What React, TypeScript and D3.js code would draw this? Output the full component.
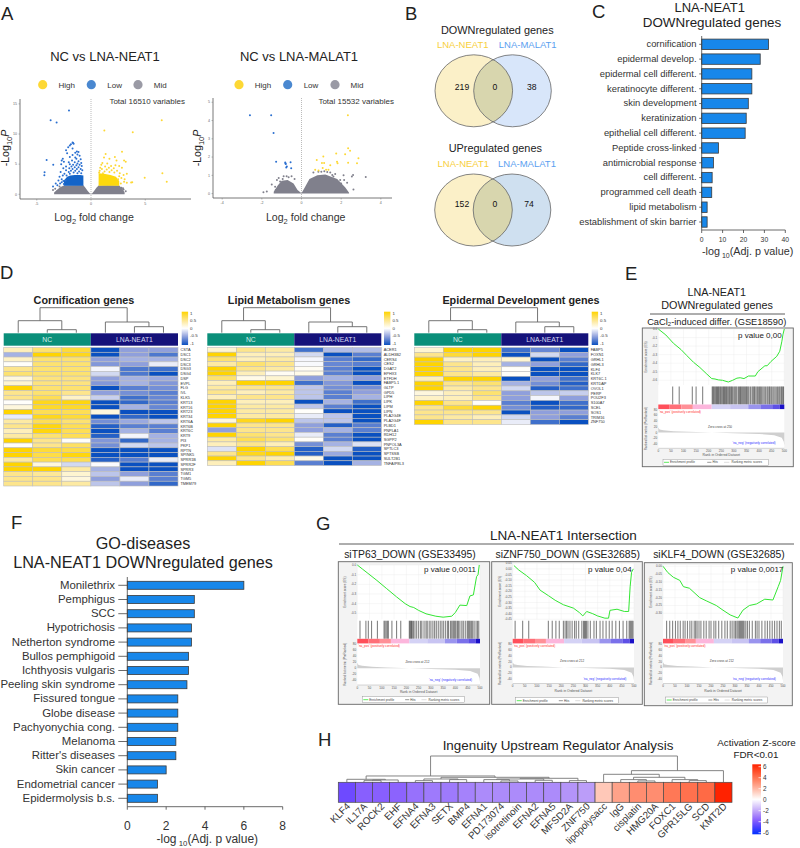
// Multi-panel figure: volcano plots, venn diagrams, GO bars, heatmaps, GSEA plots, upstream regulators
import React from 'react';
import * as d3 from 'd3';

// A: volcano plots, each point is [log2 fold change, -log10 P]
const neatBlue = [[-2.03,13.9],[-3.72,12.3],[-3.17,11.9],[-4.09,5.7],[-3.48,4.9],[-4.28,3.65],[-4.3,3.15],[-1.7,8.6],[-1.65,8.5],[-1.6,8.4],[-1.85,8.3],[-1.95,8.1],[-2.1,7.8],[-1.7,7.6],[-2.3,7.3],[-1.3,7.1],[-1.15,7],[-1.45,6.9],[-2.2,6.8],[-1.25,6.6],[-1.7,6.5],[-1.05,6.4],[-1.95,6.2],[-1.45,6.1],[-2.6,5.9],[-1.35,5.9],[-0.95,5.8],[-2.7,5.6],[-1.75,5.6],[-1.15,5.5],[-2.5,5.4],[-2.05,5.3],[-1.5,5.3],[-0.9,5.2],[-1.25,5.1],[-2.75,5],[-1.95,5],[-1.65,4.9],[-1.05,4.9],[-1.35,4.8],[-0.85,4.7],[-2.3,4.6],[-1.8,4.6],[-1.5,4.5],[-1.15,4.5],[-2.55,4.3],[-2,4.3],[-1.7,4.2],[-1.3,4.2],[-0.95,4.2],[-0.8,4],[-2.3,4],[-1.85,3.9],[-1.45,3.9],[-1.1,3.8],[-2.8,3.7],[-2.05,3.7],[-1.6,3.6],[-1.25,3.5],[-0.9,3.5],[-2.45,3.4],[-1.95,3.4],[-2.6,3.1],[-2.9,2.9],[-2.25,3.1],[-2.7,2.5],[-3,2.3],[-2.55,2.2],[-3.25,1.8],[-2.85,1.8],[-3.1,1.5],[-2.5,1.7],[-3.5,1.3],[-2.7,2],[-2.35,2.3]];
const neatYellow = [[6.52,12.3],[1.23,10.6],[3.85,10.3],[2.86,7.07],[1.35,6.7],[3.05,5.6],[2.2,6.2],[6.58,3.5],[6.98,2.1],[4.95,2.75],[3.7,1.95],[3.8,2],[3.3,3.4],[1.05,5.2],[0.95,4.9],[1.5,5.1],[1.85,4.7],[2.25,4.8],[2.6,4.7],[1.3,4.6],[0.85,4.4],[1.65,4.4],[2.1,4.3],[1,4.2],[1.45,4.1],[1.9,4],[2.4,3.9],[2.85,4.4],[0.8,3.9],[1.25,3.8],[1.7,3.7],[2.15,3.6],[2.65,3.5],[3,3.2],[2.6,3],[2.8,2.7],[3.1,2.5],[3.3,1.9],[2.75,1.8],[3.05,2.1],[2.5,2.5],[0.75,3.6],[1.1,3.5],[3.2,5.4],[2.35,5.6],[1.7,5.9],[1.2,6.1]];
const neatGrey = [[-3.5,0.7],[-3.3,0.9],[-2.9,1.3],[-3.1,0.5],[2.8,1.1],[3,0.8],[2.95,1],[3.2,0.5]];
// dense parts of the clouds: [fold change, top of the cloud]
const neatGreyMass = [[-3.4,0.3],[-3.1,0.8],[-2.8,1.2],[-2.5,1.45],[-1.2,1.5],[-0.7,1.5],[-0.5,1.05],[-0.3,0.55],[-0.1,0.15],[0,0.05],[0.1,0.15],[0.3,0.6],[0.5,1.1],[0.7,1.45],[1.5,1.5],[2.6,1.45],[2.9,0.9],[3.1,0.3]];
const neatBlueMass = [[-2.5,2.3],[-2.2,2.9],[-1.9,3.1],[-1.5,3.2],[-1,3.2],[-0.7,3.1]];
const neatYellowMass = [[0.7,3.5],[1.2,3.4],[1.8,3.2],[2.3,2.9],[2.6,2.2]];

const malatBlue = [[-2.6,4.29],[-1.53,4.29],[-1.41,3.32],[-1.28,1.75],[-0.82,1.7],[-0.79,1.62],[-0.74,1.48],[-0.55,1.72],[-0.52,1.39],[-0.77,1.43],[-0.81,1.65]];
const malatYellow = [[2.34,4.29],[2.35,2.48],[2.45,2.35],[2.2,2.15],[2.87,1.93],[1.75,2.2],[1.1,2.03],[0.77,1.84],[1.03,1.67],[1.14,1.67],[1.45,1.55],[0.69,1.31],[1.79,1.75],[1.82,1.66],[2.35,1.69],[2.8,1.66],[1.07,1.4],[1.36,1.3],[1.24,1.3],[0.86,1.27]];
const malatGrey = [[3.24,0.91],[2.62,0.22],[2.12,1],[2.54,0.93],[1.95,0.74],[1.7,1.07],[1.61,0.93],[1.45,1.15],[-1.08,0.66],[-1.24,0.75],[-1.33,0.38],[-1.75,0.11],[-1.92,0.07],[-1.5,0.5],[2.3,0.6],[2.6,1.02],[-0.9,0.95],[-0.5,0.95],[0.6,1.15],[1,1.2],[-1.3,0.2],[-1.15,0.85],[-0.95,0.8],[-0.75,0.95],[-0.65,0.9],[-0.35,0.8],[0.85,1.2],[1.15,1.22],[1.3,1.18],[1.55,1.02],[2,0.55],[2.15,0.75]];
const malatGreyMass = [[-1.4,0.1],[-1.2,0.45],[-1,0.7],[-0.7,0.75],[-0.4,0.55],[-0.2,0.2],[0,0.02],[0.15,0.3],[0.4,0.8],[0.8,1],[1.2,1.05],[1.8,0.8],[2.2,0.35],[2.4,0.05]];

// B: venn counts
const vennDown = ['219', '0', '38'];
const vennUp = ['152', '0', '74'];

// C: GO terms
const goTerms = ['cornification', 'epidermal develop.', 'epidermal cell different.', 'keratinocyte different.', 'skin development', 'keratinization', 'epithelial cell different.', 'Peptide cross-linked', 'antimicrobial response', 'cell different.', 'programmed cell death', 'lipid metabolism', 'establishment of skin barrier'];
const goValues = [32, 28, 24, 24, 22.3, 21.3, 20.8, 8, 5.6, 5, 4.8, 2.6, 2.6];

// D: heatmaps, columns are NC x3 then LNA-NEAT1 x3
const cornGenes = ['CSTA','DSC1','DSC2','DSC3','DSG3','DSG4','DSP','EVPL','FLG','IVL','KLK5','KRT13','KRT16','KRT23','KRT34','KRT6A','KRT6B','KRT6C','KRT9','PI3','PKP1','RPTN','SPINK5','SPRR1B','SPRR2F','SPRR3','TGM1','TGM5','TMEM79'];
const cornValues = [[.3,.6,.8,-1,-.5,-.5],[-.4,1,.9,-1,-.5,-.75],[.25,.6,.6,-.5,-.4,-.4],[.02,.6,.6,-.55,-.5,-.1],[.5,.6,.6,-.05,-.75,-.8],[.6,.6,.6,-.2,-.75,-1],[.15,.55,.55,-.5,-.4,-.45],[.2,.55,.55,-.55,-.4,-.55],[1,.6,.6,-1,-.7,-.6],[.5,.6,.5,-.5,-.6,-.7],[.5,.7,.25,-.25,-.8,-.65],[.02,.9,.95,-1,-.85,-.7],[.15,.85,.85,-1,-.4,-.65],[1,.7,.7,.15,-1,-1],[-.1,.9,.8,-1,-.85,-1],[.4,.7,.6,-.6,-.45,-.3],[.5,.95,.7,-.9,-.7,-.7],[.3,.95,.7,-1,-.4,-.7],[.4,.6,.7,-.9,-.05,-.4],[1,.5,.02,-.55,-.85,-.4],[.02,.5,.65,-.6,-.2,-.3],[1,.8,.75,-1,-1,-1],[1,.75,.95,-1,-1,-1],[.4,.7,.7,-.9,-.7,-.1],[1,.15,-.2,-.02,-1,-1],[1,1,.4,-.4,-1,-1],[.5,.45,.2,-.3,-.5,-.7],[.5,.5,.15,-.5,-.1,-.7],[.5,.5,.4,-.3,-.5,-.85]];
const lipidGenes = ['ACER1','ALDH3B2','CERS4','CES2','DGAT2','EPHX3','ETFDH','FABP5.1','GLTP','GPD5','LIPH','LIPK','LIPM','LIPN','PLA2G4E','PLA2G4F','PLBD1','PNPLA1','RDH12','SGPP2','PNPOL3A','SPTLC3','SPTSSB','SULT2B1','TNFAIP8L3'];
const lipidValues = [[.2,.5,.4,-.8,-.35,-.35],[1,.3,.3,-.2,-1,-.7],[.6,.3,.4,-.05,-.7,-.85],[.4,.6,.5,-.03,-.65,-.7],[1,.5,.4,.05,-.7,-1],[1,.3,.05,.1,-.7,-1],[.6,.1,.2,-.5,-.4,-.5],[.3,1,1,-.8,-.55,-1],[.4,.5,.5,-.3,-.6,-.6],[.5,.3,.4,-.3,-.7,-.5],[.3,.5,.5,-.3,-.7,-.4],[1,.3,.3,-1,-.4,-.8],[1,.4,.4,-.3,-.7,-1],[1,.4,.4,.02,-1,-1],[1,.4,.4,-.1,-.3,-1],[.15,.9,1,-.3,-.3,-1],[1,.5,.5,-.5,-.9,-.7],[-.5,.5,.5,-.5,-.4,-.7],[1,.6,.5,-.1,-.7,-1],[.4,.7,.6,.03,-.7,-1],[.3,.5,.3,-.6,-.4,-.15],[-.15,1,.7,-.9,-.2,-.9],[.5,.9,1,-.9,-.45,-1],[1,.5,.35,.1,-1,-1],[.3,1,.7,-.7,-1,-.4]];
const epiGenes = ['FABP5','FOXN1','GRHL1','GRHL3','KLF4','KLK7','KRT6C.1','KRTDAP','OVOL1','PERP','POU2F3','S100A7','SCEL','SOS1','TRIM16','ZNF750'];
const epiValues = [[.2,1,1,-.8,-.65,-1],[.5,.8,1,-1,-.2,-.5],[1,.25,.3,.2,-1,-.7],[1,.5,.3,-.4,-.5,-.85],[1,.5,.3,.02,-1,-1],[1,.5,.4,.03,-1,-1],[.3,1,1,-1,-.5,-.8],[1,.5,.6,-.4,-.6,-.9],[1,.4,.5,-.2,-.9,-.8],[.15,.3,.6,-.5,-.3,-.25],[.25,.3,.5,-.5,-.05,-.5],[1,.5,.03,-.7,-1,-.8],[.5,.8,1,-.6,-.9,-.85],[.5,.5,.5,-1,-.5,-.5],[.5,.4,.3,-.2,-.5,-.7],[1,.5,.5,-.1,-.8,-1]];
// column dendrogram: [left, right, height], a number is a leaf
const sampleTree = [[0, [1, 2, 3], 12], [3, [4, 5, 6], 10.7], 25];

// F: GO diseases
const diseases = ['Monilethrix','Pemphigus','SCC','Hypotrichosis','Netherton syndrome','Bullos pemphigoid','Ichthyosis vulgaris','Peeling skin syndrome','Fissured tongue','Globe disease','Pachyonychia cong.','Melanoma',"Ritter's diseases",'Skin cancer','Endometrial cancer','Epidermolysis b.s.'];
const diseaseValues = [6, 3.45, 3.45, 3.3, 3.3, 3.15, 3.15, 3.07, 2.6, 2.6, 2.6, 2.5, 2.5, 2, 1.55, 1.55];

// E, G: GSEA running scores, [rank, ES]
const esCaCl = [[0,0],[30,-.07],[60,-.167],[90,-.24],[113,-.31],[140,-.39],[165,-.45],[190,-.52],[212,-.58],[225,-.585],[238,-.595],[255,-.6],[278,-.62],[295,-.6],[312,-.575],[325,-.57],[340,-.58],[358,-.55],[385,-.55],[395,-.5],[423,-.43],[432,-.43],[447,-.38],[470,-.32],[482,-.26],[490,-.15],[495,-.06],[500,0]];
const esTP63 = [[0,0],[20,-.04],[40,-.08],[80,-.16],[120,-.245],[160,-.33],[195,-.4],[215,-.43],[230,-.44],[250,-.47],[280,-.505],[320,-.53],[350,-.54],[385,-.53],[400,-.49],[418,-.415],[446,-.42],[459,-.32],[473,-.31],[486,-.12],[492,-.1],[497,0]];
const esZNF = [[5,.03],[25,-.01],[57,-.06],[90,-.12],[113,-.19],[148,-.24],[175,-.28],[209,-.32],[250,-.35],[275,-.39],[289,-.42],[305,-.38],[330,-.4],[350,-.42],[380,-.44],[395,-.44],[401,-.37],[430,-.36],[460,-.38],[478,-.38],[484,-.16],[490,-.03],[497,0]];
const esKLF4 = [[0,0],[20,-.04],[43,-.07],[70,-.09],[85,-.13],[110,-.14],[153,-.2],[180,-.22],[222,-.25],[250,-.28],[280,-.31],[312,-.33],[333,-.28],[360,-.25],[390,-.24],[424,-.21],[458,-.215],[480,-.13],[490,-.09],[500,0]];
const hitsCaCl = [57,83,135,150,176,214,217,220,224,228,231,235,238,241,245,248,252,256,259,263,266,270,273,277,281,284,288,291,295,300,304,308,312,318,322,326,329,333,337,341,345,349,352,356,360,366,372,376,380,383,388,393,397,402,405,410,415,420,425,431,435,440,443,448,452,458,463,468,473,478,482,487,490,494,497];
const hitsTP63 = [11,35,45,58,82,109,113,118,124,126,141,160,177,212,215,218,221,224,229,235,242,250,258,263,272,280,285,293,300,308,315,322,330,338,345,352,360,368,372,380,385,390,394,398,402,408,412,418,426,432,440,448,452,456,460,465,470,476,484,490,495];
const hitsZNF = [10,41,66,147,163,178,192,209,216,222,228,236,245,255,262,272,285,292,296,300,304,310,320,335,345,360,372,385,398,410,425,440,455,470,480,484,488,492,496];
const hitsKLF4 = [15,28,40,52,62,72,84,92,102,112,120,130,136,142,150,158,170,180,192,200,212,220,232,245,258,268,280,288,296,302,308,313,318,322,326,330,334,338,345,352,360,372,385,392,400,412,425,435,445,455,465,475,485,493];
// ranked list metric, [rank, metric]
const metricCurve = [[0,18],[5,11],[20,8],[60,5],[120,3],[212,0],[300,-2],[400,-5],[460,-9],[490,-18],[498,-32],[500,-45]];
const rankEdges = [0, 45, 92, 137, 212, 285, 357, 405, 452, 482, 500];
const rankColors = ['#ff4f5a', '#ff6f78', '#ff9097', '#fcb6dc', '#d4d2f5', '#c8c4f2', '#9a94ee', '#7a70ea', '#5e50e6', '#1a10c8'];
const rankTicks = [0, 50, 100, 150, 200, 250, 300, 350, 400, 450, 500];
const metricTicks = [80, 60, 40, 20, 0, -20, -40];

// H: upstream regulators
const regulators = ['KLF4','IL17A','ROCK2','EHF','EFNA4','EFNA3','SETX','BMP4','EFNA1','PD173074','isotretinoin','EFNA2','EFNA5','MFSD2A','ZNF750','lipopolysacc','IgG','cisplatin','HMG20A','FOXC1','GPR15LG','SCD','KMT2D'];
const regulatorZ = [-4.2,-3.6,-3.6,-3.5,-3.2,-3,-3,-2.8,-2.6,-2.6,-2.6,-2.6,-2.6,-2.4,-2.2,1.4,2.4,3,3,3.6,3.8,4,6];
const regulatorTree = [
  [[0, [[1, 2, 5], 3, 7], 9], [[[4, 5, 5], [6, 7, 8], 10], [[[8, [9, 10, 4], 8], [11, 12, 6], 10], [13, 14, 5], 12], 15], 19],
  [[15, [[16, [17, 18, 4], 8], [19, [20, 21, 5], 8], 15], 24], 22, 35],
  79,
];

const BLUE = '#2a6fd0';
const YELLOW = '#fdd835';
const GREY = '#80808c';
const INK = '#222';
const BAR = '#1787ea';

const heatColor = d3.scaleLinear<string>().domain([-1, -0.5, 0, 0.5, 1]).range(['#0a50c0', '#8f9fdc', '#ffffff', '#fde58c', '#ffd400']);
const zColor = d3.scaleLinear<string>().domain([-6, -4, -2, 0, 2, 4, 6]).range(['#0030ff', '#7a4dff', '#c2a6f8', '#ffffff', '#ffb09a', '#ff6a45', '#ff2200']);

// recursive dendrogram, leaves sit on xOf(index)
function treeSegments(node: any, xOf: (i: number) => number, yOf: (h: number) => number, out: string[]) {
  if (typeof node === 'number') return { x: xOf(node), h: 0 };
  const a = treeSegments(node[0], xOf, yOf, out);
  const b = treeSegments(node[1], xOf, yOf, out);
  const top = yOf(node[2]);
  out.push(`M${a.x},${yOf(a.h)}V${top}H${b.x}V${yOf(b.h)}`);
  return { x: (a.x + b.x) / 2, h: node[2] };
}

const Label = ({ x, y, children }: any) => (
  <text x={x} y={y} fontSize={18.5} fill={INK}>{children}</text>
);

const Volcano = ({ x0, x1, yAxisTop, axisY, zero, xUnit, y0, yUnit, xTicks, yTicks, title, total, totalRight, legendX, textX, xLabelX, yLabelX, mass, blueMass, yellowMass, blue, yellow, grey, titleX }: any) => {
  const xScale = d3.scaleLinear().domain([0, 1]).range([zero, zero + xUnit]);
  const yScale = d3.scaleLinear().domain([0, 1]).range([y0, y0 - yUnit]);
  const massArea = d3.area<number[]>().x((d) => xScale(d[0])).y0(y0).y1((d) => yScale(d[1]));
  const denseArea = d3.area<number[]>().x((d) => xScale(d[0])).y0(yScale(1.4)).y1((d) => yScale(d[1]));
  return (
    <g>
      <text x={titleX} y={61} fontSize={13} textAnchor="middle" fill={INK}>{title}</text>
      {['High', 'Low', 'Mid'].map((t, i) => (
        <g key={t}>
          <circle cx={legendX[i]} cy={84.7} r={4.6} fill={[YELLOW, '#4a88d0', '#9a9aa5'][i]} />
          <text x={textX[i]} y={87.5} fontSize={8} textAnchor="middle" fill="#333">{t}</text>
        </g>
      ))}
      <text x={totalRight} y={103.5} fontSize={8} textAnchor="end" fill="#333">{total}</text>
      <line x1={zero} x2={zero} y1={yAxisTop} y2={axisY} stroke="#aaa" strokeWidth={0.8} strokeDasharray="1 1" />
      <path d={massArea(mass) || ''} fill={GREY} />
      {grey.map((d: number[], i: number) => <circle key={i} cx={xScale(d[0])} cy={yScale(d[1])} r={1} fill={GREY} />)}
      {blueMass && <path d={denseArea(blueMass) || ''} fill="#1464c8" />}
      {yellowMass && <path d={denseArea(yellowMass) || ''} fill="#fdd90e" />}
      {blue.map((d: number[], i: number) => <circle key={i} cx={xScale(d[0])} cy={yScale(d[1])} r={1} fill={BLUE} />)}
      {yellow.map((d: number[], i: number) => <circle key={i} cx={xScale(d[0])} cy={yScale(d[1])} r={1} fill={YELLOW} />)}
      <path d={`M${x0},${yAxisTop}V${axisY}H${x1}`} fill="none" stroke="#555" strokeWidth={0.8} />
      {xTicks.map((t: number) => (
        <g key={t}>
          <line x1={xScale(t)} x2={xScale(t)} y1={axisY} y2={axisY + 1.5} stroke="#777" strokeWidth={0.5} />
          <text x={xScale(t)} y={axisY + 6} fontSize={3.6} textAnchor="middle" fill="#666">{t}</text>
        </g>
      ))}
      {yTicks.map((t: number) => (
        <g key={t}>
          <line x1={x0 - 1.5} x2={x0} y1={yScale(t)} y2={yScale(t)} stroke="#777" strokeWidth={0.5} />
          <text x={x0 - 3} y={yScale(t) + 1.2} fontSize={3.6} textAnchor="end" fill="#666">{t}</text>
        </g>
      ))}
      <text x={xLabelX} y={221} fontSize={10.6} textAnchor="middle" fill="#333">
        Log<tspan fontSize={7.5} dy={2.5}>2</tspan><tspan dy={-2.5}> fold change</tspan>
      </text>
      <text transform={`translate(${yLabelX},148) rotate(-90)`} fontSize={10.6} textAnchor="middle" fill="#222">
        -Log<tspan fontSize={7.5} dy={2.5}>10</tspan><tspan dy={-2.5} fontStyle="italic">P</tspan>
      </text>
    </g>
  );
};

const Venn = ({ title, titleX, titleY, labelY, neatX, malatX, cy, cxL, cxR, counts, rightFill, numY }: any) => (
  <g>
    <text x={titleX} y={titleY} fontSize={10.9} textAnchor="middle" fill={INK}>{title}</text>
    <text x={neatX} y={labelY} fontSize={9.5} textAnchor="middle" fill="#f8cf3c">LNA-NEAT1</text>
    <text x={malatX} y={labelY} fontSize={9.5} textAnchor="middle" fill="#5aa0f0">LNA-MALAT1</text>
    <ellipse cx={cxL} cy={cy} rx={38.8} ry={36} fill="#fbf0c8" />
    <ellipse cx={cxR} cy={cy} rx={38.8} ry={36} fill={rightFill} />
    <clipPath id={`venn-${cy}`}><ellipse cx={cxL} cy={cy} rx={38.8} ry={36} /></clipPath>
    <ellipse cx={cxR} cy={cy} rx={38.8} ry={36} fill="#d8d6ae" clipPath={`url(#venn-${cy})`} />
    <ellipse cx={cxL} cy={cy} rx={38.8} ry={36} fill="none" stroke="#666" strokeWidth={0.8} />
    <ellipse cx={cxR} cy={cy} rx={38.8} ry={36} fill="none" stroke="#666" strokeWidth={0.8} />
    {counts.map((c: string, i: number) => (
      <text key={i} x={[462, 495, i === 2 && c === '74' ? 529 : 531.7][i]} y={numY} fontSize={8.6} textAnchor="middle" fill="#111">{c}</text>
    ))}
  </g>
);

const HBars = ({ names, values, max, tickStep, x0, x1, axisY, axisTop, first, last, barH, labelX, fontSize, tickFont, tickY, tickLen, axisFont, axisX, axisLabelY }: any) => {
  const xScale = d3.scaleLinear().domain([0, max]).range([x0, x1]);
  const yScale = d3.scalePoint<string>().domain(names).range([first, last]);
  return (
    <g>
      {names.map((n: string, i: number) => (
        <g key={n}>
          <rect x={x0} y={(yScale(n) as number) - barH / 2} width={xScale(values[i]) - x0} height={barH} fill={BAR} stroke="#3a3a3a" strokeWidth={0.8} />
          <line x1={x0 - tickLen} x2={x0} y1={yScale(n)} y2={yScale(n)} stroke="#444" strokeWidth={0.8} />
          <text x={labelX} y={(yScale(n) as number) + fontSize * 0.3} fontSize={fontSize} textAnchor="end" fill="#333">{n}</text>
        </g>
      ))}
      <path d={`M${x0},${axisTop}V${axisY}H${x1}`} fill="none" stroke="#444" strokeWidth={0.8} />
      {d3.range(0, max + 1, tickStep).map((t) => (
        <g key={t}>
          <line x1={xScale(t)} x2={xScale(t)} y1={axisY} y2={axisY + 3} stroke="#444" strokeWidth={0.8} />
          <text x={xScale(t)} y={tickY} fontSize={tickFont} textAnchor="middle" fill="#333">{t}</text>
        </g>
      ))}
      <text x={axisX} y={axisLabelY} fontSize={axisFont} textAnchor="middle" fill="#333">
        -log<tspan fontSize={axisFont * 0.65} dy={2.5}> 10</tspan><tspan dy={-2.5}>(Adj. p value)</tspan>
      </text>
    </g>
  );
};

const ColorBar = ({ id, x, y, w, h, scale, domain }: any) => (
  <g>
    <linearGradient id={id} x1="0" y1="1" x2="0" y2="0">
      {d3.range(0, 1.01, 0.1).map((t) => (
        <stop key={t} offset={t} stopColor={scale(domain[0] + (domain[1] - domain[0]) * t)} />
      ))}
    </linearGradient>
    <rect x={x} y={y} width={w} height={h} fill={`url(#${id})`} />
  </g>
);

const Heatmap = ({ id, title, titleX, x0, x1, y1, genes, values, barX }: any) => {
  const cols = d3.range(6);
  const xScale = d3.scaleBand<number>().domain(cols).range([x0, x1]);
  const yScale = d3.scaleBand<string>().domain(genes).range([347.5, y1]);
  const hScale = d3.scaleLinear().domain([0, 25]).range([332.7, 307.7]);
  const links: string[] = [];
  treeSegments(sampleTree, (i) => (xScale(i) as number) + xScale.bandwidth() / 2, hScale, links);
  const mid = xScale(3) as number;
  return (
    <g>
      <text x={titleX} y={304} fontSize={10.8} fontWeight="bold" textAnchor="middle" fill={INK}>{title}</text>
      <path d={links.join('')} fill="none" stroke="#666" strokeWidth={0.9} />
      <rect x={x0} y={333.3} width={mid - x0} height={12.4} fill="#0a8f7a" />
      <rect x={mid} y={333.3} width={x1 - mid} height={12.4} fill="#15127a" />
      <text x={(x0 + mid) / 2} y={342.3} fontSize={6.8} textAnchor="middle" fill="#d8eee8">NC</text>
      <text x={(mid + x1) / 2} y={342.3} fontSize={6.8} textAnchor="middle" fill="#d8d8f0">LNA-NEAT1</text>
      {genes.map((g: string, r: number) => (
        <g key={g}>
          {cols.map((c) => (
            <rect key={c} x={xScale(c)} y={yScale(g)} width={xScale.bandwidth()} height={yScale.bandwidth()} fill={heatColor(values[r][c])} stroke="#bdbdbd" strokeWidth={0.6} />
          ))}
          <text x={x1 + 2.4} y={(yScale(g) as number) + yScale.bandwidth() / 2 + 1.4} fontSize={3.9} fill="#333">{g}</text>
        </g>
      ))}
      <ColorBar id={id} x={barX} y={311.7} w={6.4} h={33.3} scale={heatColor} domain={[-1, 1]} />
      {[1, 0.5, 0, -0.5, -1].map((t, i) => (
        <text key={t} x={barX + 8.4} y={314.5 + i * 7.5} fontSize={4.4} fill="#333">{t}</text>
      ))}
    </g>
  );
};

const Gsea = ({ box, xr, esTop, esBottom, esDomain, esTicks, es, hits, legend, metricBottom, pText, pRight, pY, zeroLabel, esDigits }: any) => {
  const xScale = d3.scaleLinear().domain([0, 500]).range(xr);
  const esY = d3.scaleLinear().domain(esDomain).range([esTop, esBottom]);
  const barTop = esBottom + 19.5;
  const barBottom = barTop + 4.6;
  const metricY = d3.scaleLinear().domain([82, -55]).range([barBottom, metricBottom]);
  const line = d3.line<number[]>().x((d) => xScale(d[0])).y((d) => esY(d[1]));
  const area = d3.area<number[]>().x((d) => xScale(d[0])).y0(metricY(0)).y1((d) => metricY(d[1]));
  const tiny = 3.1;
  const midY = (esTop + esBottom) / 2;
  const metricMid = (barBottom + metricBottom) / 2;
  const lx = legend[0];
  const lw = legend[1] - legend[0];
  return (
    <g>
      <rect x={box[0]} y={box[1]} width={box[2] - box[0]} height={box[3] - box[1]} fill="#f3f3f3" stroke="#666" strokeWidth={0.9} />
      <rect x={xr[0]} y={esTop} width={xr[1] - xr[0]} height={metricBottom - esTop} fill="#fff" />
      {esTicks.map((t: number) => <line key={t} x1={xr[0]} x2={xr[1]} y1={esY(t)} y2={esY(t)} stroke="#ececec" strokeWidth={0.4} />)}
      {rankTicks.map((t) => <line key={t} x1={xScale(t)} x2={xScale(t)} y1={esTop} y2={esBottom} stroke="#ececec" strokeWidth={0.4} />)}
      <path d={line(es) || ''} fill="none" stroke="#33e633" strokeWidth={1} />
      {esTicks.map((t: number) => (
        <text key={t} x={xr[0] - 1} y={esY(t) + 1} fontSize={tiny} textAnchor="end" fill="#555">{t.toFixed(esDigits)}</text>
      ))}
      <text transform={`translate(${xr[0] - 11.5},${midY}) rotate(-90)`} fontSize={tiny} textAnchor="middle" fill="#555">Enrichment score (ES)</text>
      {hits.map((h: number, i: number) => (
        <line key={i} x1={xScale(h)} x2={xScale(h)} y1={esBottom + 1.5} y2={barTop} stroke="#222" strokeWidth={1.1} opacity={0.55} />
      ))}
      {rankColors.map((c, i) => (
        <rect key={c} x={xScale(rankEdges[i])} y={barTop} width={xScale(rankEdges[i + 1]) - xScale(rankEdges[i])} height={4.6} fill={c} />
      ))}
      <path d={area(metricCurve) || ''} fill="#cfcfcf" />
      <line x1={xr[0]} x2={xr[1]} y1={metricBottom} y2={metricBottom} stroke="#999" strokeWidth={0.4} />
      {metricTicks.map((t) => (
        <text key={t} x={xr[0] - 1} y={metricY(t) + 1} fontSize={tiny} textAnchor="end" fill="#555">{t}</text>
      ))}
      <text transform={`translate(${xr[0] - 11.5},${metricMid}) rotate(-90)`} fontSize={tiny} textAnchor="middle" fill="#555">Ranked list metric (PreRanked)</text>
      <text x={xr[0] + 1} y={barBottom + 4} fontSize={tiny} fill="#ff3030">'na_pos' (positively correlated)</text>
      <text x={xScale(380)} y={metricBottom - 4} fontSize={tiny} textAnchor="middle" fill="#3030ff">'na_neg' (negatively correlated)</text>
      <text x={xScale(245)} y={metricY(17)} fontSize={tiny} textAnchor="middle" fill="#444">{zeroLabel}</text>
      {rankTicks.map((t) => (
        <text key={t} x={xScale(t)} y={metricBottom + 3.8} fontSize={tiny} textAnchor="middle" fill="#555">{t}</text>
      ))}
      <text x={(xr[0] + xr[1]) / 2} y={metricBottom + 8} fontSize={tiny + 0.3} textAnchor="middle" fill="#555">Rank in Ordered Dataset</text>
      <rect x={lx} y={legend[2]} width={lw} height={6} fill="#fff" stroke="#888" strokeWidth={0.4} />
      <line x1={lx + 1} x2={lx + 6} y1={legend[2] + 3} y2={legend[2] + 3} stroke="#33e633" strokeWidth={0.8} />
      <text x={lx + 7} y={legend[2] + 4.1} fontSize={tiny} fill="#444">Enrichment profile</text>
      <line x1={lx + lw * 0.42} x2={lx + lw * 0.46} y1={legend[2] + 3} y2={legend[2] + 3} stroke="#333" strokeWidth={0.5} />
      <text x={lx + lw * 0.47} y={legend[2] + 4.1} fontSize={tiny} fill="#444">Hits</text>
      <line x1={lx + lw * 0.58} x2={lx + lw * 0.63} y1={legend[2] + 3} y2={legend[2] + 3} stroke="#bbb" strokeWidth={0.5} />
      <text x={lx + lw * 0.65} y={legend[2] + 4.1} fontSize={tiny} fill="#444">Ranking metric scores</text>
      <text x={pRight} y={pY} fontSize={8} textAnchor="end" fill="#222">{pText}</text>
    </g>
  );
};

const Regulators = () => {
  const xScale = d3.scaleBand<string>().domain(regulators).range([338.3, 732]);
  const hScale = d3.scaleLinear().domain([0, 79]).range([782.3, 756]);
  const links: string[] = [];
  treeSegments(regulatorTree, (i) => (xScale(regulators[i]) as number) + xScale.bandwidth() / 2, hScale, links);
  const zScale = d3.scaleLinear().domain([6, -6]).range([766.7, 832.7]);
  return (
    <g>
      <text x={558} y={750} fontSize={13.4} textAnchor="middle" fill={INK}>Ingenuity Upstream Regulator Analysis</text>
      <text x={756.5} y={746} fontSize={9.8} textAnchor="middle" fill={INK}>Activation Z-score</text>
      <text x={756} y={757.5} fontSize={9.8} textAnchor="middle" fill={INK}>FDR&lt;0.01</text>
      <path d={links.join('')} fill="none" stroke="#777" strokeWidth={0.9} />
      {regulators.map((r, i) => (
        <g key={r}>
          <rect x={xScale(r)} y={782.3} width={xScale.bandwidth()} height={20} fill={zColor(regulatorZ[i])} stroke="#4a4a4a" strokeWidth={0.7} />
          <text transform={`translate(${(xScale(r) as number) + xScale.bandwidth() / 2 + 4},807) rotate(-45)`} fontSize={9.8} textAnchor="end" fill="#333">{r}</text>
        </g>
      ))}
      <ColorBar id="z-bar" x={752.3} y={764.3} w={8.7} h={70} scale={zColor} domain={[-6, 6]} />
      {zScale.ticks(6).map((t) => (
        <g key={t}>
          <line x1={758.5} x2={761} y1={zScale(t)} y2={zScale(t)} stroke="#fff" strokeWidth={0.7} />
          <text x={763} y={zScale(t) + 2.2} fontSize={6.4} fill="#333">{t}</text>
        </g>
      ))}
    </g>
  );
};

export default function App() {
  return (
    <svg width={800} height={848} viewBox="0 0 800 848" style={{ position: 'absolute', left: 0, top: 0, background: '#fff' }} fontFamily="'Liberation Sans', Arial, sans-serif">
      <Label x={1} y={20}>A</Label>
      <Label x={405} y={20}>B</Label>
      <Label x={592} y={18}>C</Label>
      <Label x={0} y={279}>D</Label>
      <Label x={625} y={280}>E</Label>
      <Label x={11} y={529}>F</Label>
      <Label x={316} y={530}>G</Label>
      <Label x={318} y={746}>H</Label>

      <Volcano x0={20} x1={191} yAxisTop={99} axisY={199} zero={91} xUnit={10.85} y0={194.3} yUnit={6.03} xTicks={[-5, 0, 5]} yTicks={[0, 5, 10, 15]}
        title="NC vs LNA-NEAT1" titleX={105} total="Total 16510 variables" totalRight={185} legendX={[42.7, 91.3, 138]} textX={[66.7, 114.7, 160.3]}
        xLabelX={94} yLabelX={9} mass={neatGreyMass} blueMass={neatBlueMass} yellowMass={neatYellowMass} blue={neatBlue} yellow={neatYellow} grey={neatGrey} />
      <Volcano x0={213} x1={392} yAxisTop={98} axisY={198} zero={301.5} xUnit={19.83} y0={193.6} yUnit={18.27} xTicks={[-4, -2, 0, 2, 4]} yTicks={[0, 1, 2, 3, 4, 5]}
        title="NC vs LNA-MALAT1" titleX={299} total="Total 15532 variables" totalRight={394} legendX={[239, 287.7, 335]} textX={[263, 311, 357]}
        xLabelX={305.7} yLabelX={201} mass={malatGreyMass} blue={malatBlue} yellow={malatYellow} grey={malatGrey} />

      <Venn title="DOWNregulated genes" titleX={497.3} titleY={33.5} labelY={47.5} neatX={462.7} malatX={527.7} cy={90.8} cxL={473.8} cxR={512.5} counts={vennDown} rightFill="#d8e6fa" numY={89.5} />
      <Venn title="UPregulated genes" titleX={495.3} titleY={151.7} labelY={167} neatX={463.3} malatX={527} cy={210} cxL={473.5} cxR={512} counts={vennUp} rightFill="#cfe0f0" numY={207} />

      <text x={709.7} y={12} fontSize={13} textAnchor="middle" fill={INK}>LNA-NEAT1</text>
      <text x={712} y={27} fontSize={13.4} textAnchor="middle" fill={INK}>DOWNregulated genes</text>
      <HBars names={goTerms} values={goValues} max={40} tickStep={10} x0={701.7} x1={785.3} axisY={230} axisTop={36} first={44.3} last={222} barH={10.4} labelX={696.5} fontSize={9.4} tickFont={6.8} tickY={242} tickLen={2.5} axisFont={10.8} axisX={747.7} axisLabelY={255} />

      <Heatmap id="bar-corn" title="Cornification genes" titleX={84} x0={3.7} x1={178} y1={486} genes={cornGenes} values={cornValues} barX={181.7} />
      <Heatmap id="bar-lipid" title="Lipid Metabolism genes" titleX={289} x0={207.3} x1={381.3} y1={465.5} genes={lipidGenes} values={lipidValues} barX={384} />
      <Heatmap id="bar-epi" title="Epidermal Development genes" titleX={521} x0={414.3} x1={588.3} y1={424.5} genes={epiGenes} values={epiValues} barX={591.7} />

      <text x={716.7} y={295.7} fontSize={10.8} textAnchor="middle" fill={INK}>LNA-NEAT1</text>
      <text x={717} y={309} fontSize={10.8} textAnchor="middle" fill={INK}>DOWNregulated genes</text>
      <line x1={650} x2={785} y1={314} y2={314} stroke="#333" strokeWidth={0.8} />
      <text x={716.7} y={324.5} fontSize={9.3} textAnchor="middle" fill={INK}>
        CaCl<tspan fontSize={6} dy={1.5}>2</tspan><tspan dy={-1.5}>-induced differ. (GSE18590)</tspan>
      </text>
      <Gsea box={[642.3, 328, 793.3, 466.7]} xr={[658.3, 784.3]} esTop={329} esBottom={385} esDomain={[0, -0.655]} esTicks={[0, -0.1, -0.2, -0.3, -0.4, -0.5, -0.6]} esDigits={1} es={esCaCl} hits={hitsCaCl}
        legend={[663, 768.3, 459.3]} metricBottom={448.3} pText="p value 0,00" pRight={781.7} pY={337.5} zeroLabel="Zero cross at 250" />

      <HBars names={diseases} values={diseaseValues} max={8} tickStep={2} x0={127.3} x1={282.7} axisY={806.7} axisTop={577} first={585.3} last={798.3} barH={8} labelX={115} fontSize={11.4} tickFont={12} tickY={830} tickLen={9} axisFont={12} axisX={207.3} axisLabelY={843} />
      <text x={143} y={549} fontSize={16.2} textAnchor="middle" fill={INK}>GO-diseases</text>
      <text x={143} y={568} fontSize={16.2} textAnchor="middle" fill={INK}>LNA-NEAT1 DOWNregulated genes</text>

      <text x={563.3} y={540} fontSize={13.5} textAnchor="middle" fill={INK}>LNA-NEAT1 Intersection</text>
      <line x1={339} x2={794} y1={544} y2={544} stroke="#333" strokeWidth={0.8} />
      <text x={410} y={558} fontSize={10.4} textAnchor="middle" fill={INK}>siTP63_DOWN (GSE33495)</text>
      <text x={567.7} y={558} fontSize={10.4} textAnchor="middle" fill={INK}>siZNF750_DOWN (GSE32685)</text>
      <text x={719} y={558} fontSize={10.4} textAnchor="middle" fill={INK}>siKLF4_DOWN (GSE32685)</text>
      <Gsea box={[338.3, 561.7, 489.7, 704.3]} xr={[357.3, 480]} esTop={565} esBottom={619.3} esDomain={[0, -0.562]} esTicks={[0, -0.1, -0.2, -0.3, -0.4, -0.5]} esDigits={1} es={esTP63} hits={hitsTP63}
        legend={[362.3, 464.3, 696.7]} metricBottom={685} pText="p value 0,0011" pRight={476} pY={571.7} zeroLabel="Zero cross at 212" />
      <Gsea box={[491.7, 561.7, 642.3, 704.3]} xr={[512.7, 634]} esTop={563.3} esBottom={619.3} esDomain={[0.05, -0.45]} esTicks={[0.05, 0, -0.05, -0.1, -0.15, -0.2, -0.25, -0.3, -0.35, -0.4, -0.45]} esDigits={2} es={esZNF} hits={hitsZNF}
        legend={[515.7, 618.3, 697.7]} metricBottom={683.5} pText="p value 0,04" pRight={631.7} pY={571.7} zeroLabel="Zero cross at 212" />
      <Gsea box={[644.3, 562.7, 792.3, 705.7]} xr={[663, 783]} esTop={565} esBottom={619.3} esDomain={[0.008, -0.338]} esTicks={[0, -0.05, -0.1, -0.15, -0.2, -0.25, -0.3]} esDigits={2} es={esKLF4} hits={hitsKLF4}
        legend={[665.7, 767.3, 697]} metricBottom={683.5} pText="p value 0,0017" pRight={783.3} pY={571.7} zeroLabel="Zero cross at 212" />

      <Regulators />
    </svg>
  );
}
